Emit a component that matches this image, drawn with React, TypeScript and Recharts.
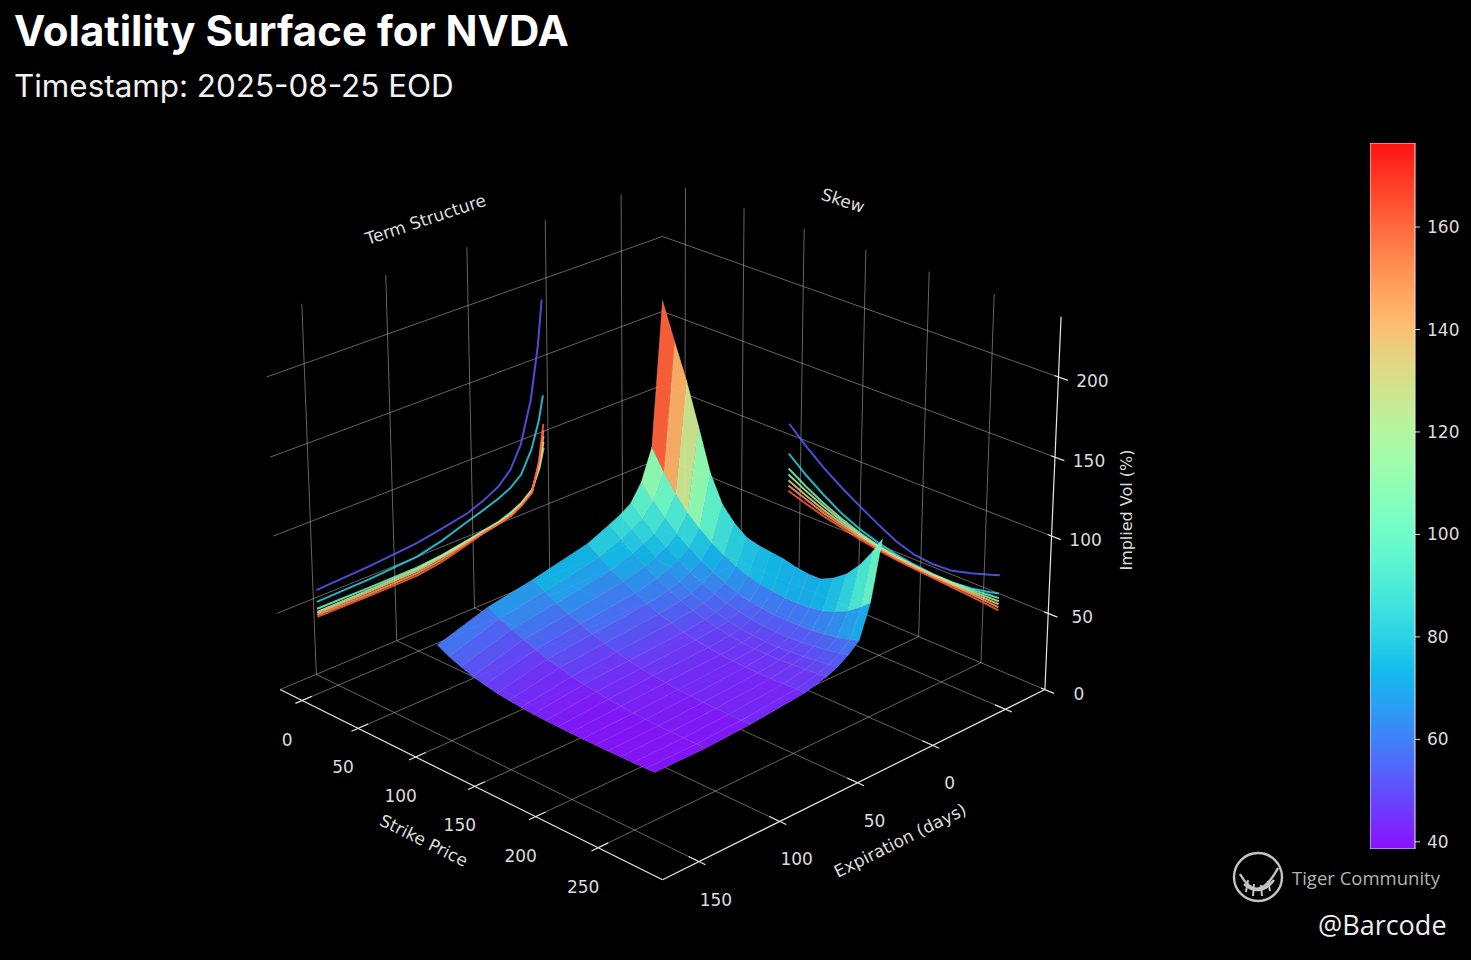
import { ComposedChart, XAxis, YAxis, Line, Scatter, BarChart, Bar } from "recharts";

// axis limits of the 3D box
const STRIKE_LIM = [-20, 300];
const EXPIRY_LIM = [-78, 172];
const VOL_LIM = [0, 237];
const COLOR_LIM = [38.6, 176.4];

const STRIKE_TICKS = [0, 50, 100, 150, 200, 250];
const EXPIRY_TICKS = [-50, 0, 50, 100, 150];
const EXPIRY_LABELS = [0, 50, 100, 150];
const VOL_TICKS = [0, 50, 100, 150, 200];
const CBAR_TICKS = [40, 60, 80, 100, 120, 140, 160];

// surface grid
const STRIKES = [85, 95, 105, 115, 125, 135, 145, 155, 165, 175, 185, 195, 205, 215, 225, 235, 245, 255, 262];
const EXPIRIES = [4, 11, 18, 25, 32, 39, 53, 88, 116, 147];
const VOL_4D = [216, 193, 171, 145, 118, 101, 92, 86, 84, 83, 82, 80, 79, 79, 83, 89, 98, 110, 120];
const VOL_11D = [125, 112, 101, 92, 85, 79, 74, 70, 67, 65, 64, 63, 63, 63.5, 65, 68, 72, 78, 83];
const VOL_18D = [105, 96, 88, 81, 75, 70, 66, 62, 59, 57, 56, 55, 55, 55, 55.5, 56.5, 58, 60, 62];
const VOL_25D = [94, 87, 80.5, 75, 70, 65.5, 61.5, 58, 55.5, 53.5, 52, 51, 50.5, 50.5, 51, 52, 53, 54.5, 56];
const VOL_32D = [89.5, 83, 77, 71.5, 66.5, 62, 58, 55, 52.5, 50.5, 49, 48, 47.5, 47.5, 48, 48.5, 49.5, 50.5, 51.5];
const VOL_39D = [86, 79.5, 73.5, 68.5, 64, 60, 56.5, 53.5, 51, 49, 47.5, 46.5, 46, 46, 46, 46.5, 47, 47.8, 48.5];
const VOL_53D = [79.5, 74, 69, 64.5, 60.5, 57, 54, 51.5, 49, 47.5, 46, 45, 44.5, 44.2, 44, 44, 44.2, 44.5, 44.7];
const VOL_88D = [71, 66.5, 62.5, 59, 56, 53, 50.5, 48.5, 46.5, 45, 44, 43, 42.3, 41.8, 41.4, 41.2, 41, 41, 41];
const VOL_116D = [65.5, 61.5, 58, 55, 52, 49.5, 47.5, 45.5, 44, 42.8, 41.8, 41, 40.4, 40, 39.7, 39.5, 39.4, 39.3, 39.3];
const VOL_147D = [55, 51, 48, 45.5, 43.5, 42, 41, 40.2, 39.6, 39.2, 39, 38.8, 38.7, 38.6, 38.6, 38.7, 38.8, 39, 39.2];
const VOL_ROWS = [VOL_4D, VOL_11D, VOL_18D, VOL_25D, VOL_32D, VOL_39D, VOL_53D, VOL_88D, VOL_116D, VOL_147D];

// term structure, projected on the strike wall
const TERM_DAYS = [3, 6, 11, 18, 25, 33, 43, 53, 70, 86, 116, 148];
const TERM_BLUE = [187, 157, 124, 97, 83, 75, 69.5, 65.5, 62, 59, 56.4, 54.7];
const TERM_CYAN = [124, 108, 91, 77, 71, 67, 63.3, 60, 54, 50, 48, 47];
const TERM_GREEN = [89, 76, 64, 58, 54.5, 51.5, 49.5, 47.5, 44.5, 42.8, 42.5, 42.5];
const TERM_LIME = [93, 78, 63.5, 57.5, 53.5, 51, 49, 47, 44, 41.8, 41, 40.5];
const TERM_YELLOW = [97, 79, 63, 57, 53, 50.5, 48.5, 46.5, 43, 40.5, 39.8, 39.5];
const TERM_ORANGE = [101, 80.5, 62.5, 56.5, 52.5, 50, 48, 46, 41.5, 39, 38.3, 38.3];
const TERM_RED = [105, 82, 62, 56, 52, 50, 48, 45, 40, 37.5, 37, 37.2];

// skew, projected on the expiry wall
const SKEW_STRIKES = [90, 105, 120, 135, 150, 165, 180, 195, 210, 225, 240, 255, 262];
const SKEW_BLUE = [107, 96, 86.3, 78, 70.5, 63.5, 57, 53, 51.8, 52.5, 56, 60, 62];
const SKEW_CYAN = [87, 77, 68.5, 61, 55.5, 51.5, 48.5, 46.5, 45.2, 45, 46, 48.5, 50];
const SKEW_GREEN = [77, 69.5, 63, 57.5, 53, 49.5, 47.3, 45.8, 45, 44.8, 45.3, 46.5, 47];
const SKEW_LIME = [73, 66.5, 61, 56, 52, 48.8, 46.8, 45.4, 44.6, 44.2, 44.3, 44.8, 45];
const SKEW_YELLOW = [69, 63.5, 58.5, 54.5, 51, 48.2, 46.3, 45, 44.2, 43.6, 43.3, 43.1, 43];
const SKEW_ORANGE = [65.5, 61, 56.5, 53, 50, 47.6, 45.8, 44.6, 43.7, 43, 42.3, 41.5, 41];
const SKEW_RED = [62, 58, 54.5, 51.5, 48.8, 46.6, 45, 43.8, 42.8, 41.8, 40.8, 39.7, 39];

const LINE_SHADES = [0.1, 0.3, 0.45, 0.6, 0.7, 0.8, 0.9];
const TERM_SERIES = [TERM_BLUE, TERM_CYAN, TERM_GREEN, TERM_LIME, TERM_YELLOW, TERM_ORANGE, TERM_RED];
const SKEW_SERIES = [SKEW_BLUE, SKEW_CYAN, SKEW_GREEN, SKEW_LIME, SKEW_YELLOW, SKEW_ORANGE, SKEW_RED];

// camera
const W = 1471;
const H = 960;
const PX = 552;
const CX = 662.5;
const CY = 507;
const COS_E = Math.cos((24.5 * Math.PI) / 180);
const SIN_E = Math.sin((24.5 * Math.PI) / 180);
const DIST = 7.45;
const BOX_H = 0.742;
const X_DOMAIN = [-CX / PX, (W - CX) / PX];
const Y_DOMAIN = [(CY - H) / PX, CY / PX];

const GRID = "rgba(200,200,200,0.5)";
const AXIS = "#e6e6e6";
const TEXT = "#dcdcdc";
const FONT = "DejaVu Sans, sans-serif";
const PASTEL = 0.07;

function project(s: number, e: number, v: number) {
  const a = (s - STRIKE_LIM[0]) / (STRIKE_LIM[1] - STRIKE_LIM[0]) - 0.5;
  const b = (e - EXPIRY_LIM[0]) / (EXPIRY_LIM[1] - EXPIRY_LIM[0]) - 0.5;
  const z = ((v - VOL_LIM[0]) / (VOL_LIM[1] - VOL_LIM[0]) - 0.5) * BOX_H;
  const side = (a - b) * Math.SQRT1_2;
  const toward = (a + b) * Math.SQRT1_2;
  const up = z * COS_E - toward * SIN_E;
  const depth = toward * COS_E + z * SIN_E;
  const k = DIST / (DIST - depth);
  return { x: side * k, y: up * k, depth };
}

function rainbow(t: number, lift = PASTEL) {
  const c = Math.min(1, Math.max(0, t));
  const ch = [Math.min(1, Math.abs(2 * c - 0.5)), Math.sin(Math.PI * c), Math.cos((Math.PI * c) / 2)];
  const [r, g, b] = ch.map((u) => Math.round((u + (1 - u) * lift) * 255));
  return `rgb(${r},${g},${b})`;
}

const colorT = (v: number) => (v - COLOR_LIM[0]) / (COLOR_LIM[1] - COLOR_LIM[0]);

type P3 = [number, number, number];
const path = (pts: P3[]) => pts.map(([s, e, v]) => project(s, e, v));

// box grid lines
const gridLines: P3[][] = [];
const [S0, S1] = STRIKE_LIM;
const [E0, E1] = EXPIRY_LIM;
const [V0, V1] = VOL_LIM;
STRIKE_TICKS.forEach((s) => {
  gridLines.push([[s, E0, V0], [s, E1, V0]]);
  gridLines.push([[s, E0, V0], [s, E0, V1]]);
});
EXPIRY_TICKS.forEach((e) => {
  gridLines.push([[S0, e, V0], [S1, e, V0]]);
  gridLines.push([[S0, e, V0], [S0, e, V1]]);
});
VOL_TICKS.forEach((v) => {
  gridLines.push([[S0, E1, v], [S0, E0, v]]);
  gridLines.push([[S0, E0, v], [S1, E0, v]]);
});

const axisLines: P3[][] = [
  [[S0, E1, V0], [S1, E1, V0]],
  [[S1, E1, V0], [S1, E0, V0]],
  [[S1, E0, V0], [S1, E0, V1]],
];
STRIKE_TICKS.forEach((s) => axisLines.push([[s, E1 - 6, V0], [s, E1 + 4, V0]]));
EXPIRY_TICKS.forEach((e) => axisLines.push([[S1 - 8, e, V0], [S1 + 5, e, V0]]));
VOL_TICKS.forEach((v) => axisLines.push([[S1 - 3, E0, v], [S1 + 7, E0, v]]));

// surface facets, far to near
const quads: any[] = [];
for (let i = 0; i < EXPIRIES.length - 1; i++) {
  for (let j = 0; j < STRIKES.length - 1; j++) {
    const idx = [[j, i], [j + 1, i], [j + 1, i + 1], [j, i + 1]];
    const corners = idx.map(([c, r]) => project(STRIKES[c], EXPIRIES[r], VOL_ROWS[r][c]));
    const mean = idx.reduce((acc, [c, r]) => acc + VOL_ROWS[r][c], 0) / 4;
    quads.push({
      x: corners[0].x,
      y: corners[0].y,
      pts: corners.map((c) => [c.x, c.y]),
      depth: corners.reduce((acc, c) => acc + c.depth, 0) / 4,
      fill: rainbow(colorT(mean)),
      edge: rainbow(colorT(mean), 0.3),
    });
  }
}
quads.sort((p, q) => p.depth - q.depth);

// on-screen angle (svg degrees) of the segment p -> q
function screenAngle(p: P3, q: P3) {
  const a = project(...p);
  const b = project(...q);
  return (-Math.atan2(b.y - a.y, b.x - a.x) * 180) / Math.PI;
}

const labels: any[] = [];
STRIKE_TICKS.forEach((s) =>
  labels.push({ ...project(s, E1, V0), text: String(s), dx: -15, dy: 39, size: 17 })
);
EXPIRY_LABELS.forEach((e) =>
  labels.push({ ...project(S1, e, V0), text: String(e), dx: 17, dy: 38, size: 17 })
);
VOL_TICKS.forEach((v) =>
  labels.push({ ...project(S1, E0, v), text: String(v), dx: 34, dy: 4, size: 17 })
);
labels.push({
  ...project((S0 + S1) / 2, E1, V0), text: "Strike Price", dx: -39, dy: 60, size: 17,
  angle: screenAngle([S0, E1, V0], [S1, E1, V0]),
});
labels.push({
  ...project(S1, (E0 + E1) / 2, V0), text: "Expiration (days)", dx: 38, dy: 60, size: 17,
  angle: screenAngle([S1, E1, V0], [S1, E0, V0]),
});
labels.push({
  ...project(S1, E0, (V0 + V1) / 2), text: "Implied Vol (%)", dx: 74, dy: 3, size: 16, angle: -90,
});
labels.push({
  ...project(S0, 75, 263), text: "Term Structure", dx: 0, dy: 0, size: 17,
  angle: screenAngle([S0, 100, 263], [S0, 50, 263]),
});
labels.push({
  ...project(131, E0, 263), text: "Skew", dx: 0, dy: 0, size: 17,
  angle: screenAngle([100, E0, 263], [160, E0, 263]),
});

const QuadShape = (props: any) => {
  const q = props.payload;
  if (!q || props.cx == null) return null;
  const pts = q.pts
    .map(([x, y]: number[]) => `${props.cx + (x - q.x) * PX},${props.cy - (y - q.y) * PX}`)
    .join(" ");
  return <polygon points={pts} fill={q.fill} fillOpacity={0.96} stroke={q.edge} strokeWidth={0.6} strokeOpacity={0.7} />;
};

const TextShape = (props: any) => {
  const p = props.payload;
  if (!p || props.cx == null) return null;
  const x = props.cx + p.dx;
  const y = props.cy + p.dy;
  return (
    <text
      x={x}
      y={y}
      textAnchor="middle"
      dominantBaseline="central"
      fill={TEXT}
      fontSize={p.size}
      fontFamily={FONT}
      transform={p.angle ? `rotate(${p.angle} ${x} ${y})` : undefined}
    >
      {p.text}
    </text>
  );
};

const COLORBAR_DATA = [{ name: "iv", range: COLOR_LIM }];
const GRAD_STOPS = Array.from({ length: 21 }, (_, i) => i / 20);

export default function App() {
  return (
    <div style={{ position: "absolute", left: 0, top: 0, width: W, height: H, background: "#000", overflow: "hidden" }}>
      <svg width={0} height={0} style={{ position: "absolute" }}>
        <defs>
          <linearGradient id="cbar" x1="0" y1="1" x2="0" y2="0">
            {GRAD_STOPS.map((t) => (
              <stop key={t} offset={t} stopColor={rainbow(t)} />
            ))}
          </linearGradient>
        </defs>
      </svg>

      <div style={{ position: "absolute", left: 0, top: 0 }}>
        <ComposedChart width={W} height={H} margin={{ top: 0, right: 0, bottom: 0, left: 0 }}>
          <XAxis type="number" dataKey="x" domain={X_DOMAIN} allowDataOverflow hide />
          <YAxis type="number" dataKey="y" domain={Y_DOMAIN} allowDataOverflow hide />
          {gridLines.map((g, i) => (
            <Line key={`g${i}`} data={path(g)} dataKey="y" stroke={GRID} strokeWidth={1} dot={false}
              activeDot={false} isAnimationActive={false} legendType="none" />
          ))}
          {TERM_SERIES.map((vals, i) => (
            <Line key={`t${i}`} data={vals.map((v, j) => project(S0, TERM_DAYS[j], v))} dataKey="y"
              stroke={rainbow(LINE_SHADES[i])} strokeOpacity={0.85} strokeWidth={2} dot={false}
              activeDot={false} isAnimationActive={false} legendType="none" />
          ))}
          {SKEW_SERIES.map((vals, i) => (
            <Line key={`k${i}`} data={vals.map((v, j) => project(SKEW_STRIKES[j], E0, v))} dataKey="y"
              stroke={rainbow(LINE_SHADES[i])} strokeOpacity={0.85} strokeWidth={2} dot={false}
              activeDot={false} isAnimationActive={false} legendType="none" />
          ))}
          <Scatter data={quads} dataKey="y" shape={QuadShape} isAnimationActive={false} legendType="none" />
          {axisLines.map((g, i) => (
            <Line key={`a${i}`} data={path(g)} dataKey="y" stroke={AXIS} strokeWidth={1.2} dot={false}
              activeDot={false} isAnimationActive={false} legendType="none" />
          ))}
          <Scatter data={labels} dataKey="y" shape={TextShape} isAnimationActive={false} legendType="none" />
        </ComposedChart>
      </div>

      <div style={{ position: "absolute", left: 1370, top: 131 }}>
        <BarChart width={100} height={730} data={COLORBAR_DATA} margin={{ top: 12, right: 0, bottom: 12, left: 0 }}
          barCategoryGap={0}>
          <XAxis dataKey="name" hide />
          <YAxis orientation="right" type="number" domain={COLOR_LIM} ticks={CBAR_TICKS} interval={0} allowDataOverflow
            width={55} axisLine={false} tickSize={5} tickMargin={7} tickLine={{ stroke: TEXT }}
            tick={{ fill: TEXT, fontSize: 17, fontFamily: FONT }} />
          <Bar dataKey="range" fill="url(#cbar)" stroke="#f2e6ea" strokeWidth={1} isAnimationActive={false} />
        </BarChart>
      </div>

      <svg width={W} height={H} style={{ position: "absolute", left: 0, top: 0, pointerEvents: "none" }}>
        <text x={14} y={46} fill="#fff" fontSize={42} fontWeight={700} fontFamily="Inter, sans-serif">
          Volatility Surface for NVDA
        </text>
        <text x={14} y={97} fill="#f2f2f2" fontSize={31.4} fontFamily="Inter, sans-serif">
          Timestamp: 2025-08-25 EOD
        </text>
        <g stroke="#c4c4c4" fill="none" strokeWidth={2.4}>
          <circle cx={1258} cy={877} r={24} />
          <path d="M1240 874 Q1258 906 1278 868" />
          <path d="M1244 884 Q1260 898 1274 880" />
          <path d="M1248 880 L1246 892 M1254 884 L1253 896 M1261 885 L1262 896 M1268 881 L1270 891" strokeWidth={2} />
        </g>
        <text x={1292} y={885} fill="#b4b4b4" fontSize={18.5} fontFamily="Open Sans, sans-serif">
          Tiger Community
        </text>
        <text x={1318} y={935} fill="#eeeeee" fontSize={27} fontFamily="Open Sans, sans-serif">
          @Barcode
        </text>
      </svg>
    </div>
  );
}
